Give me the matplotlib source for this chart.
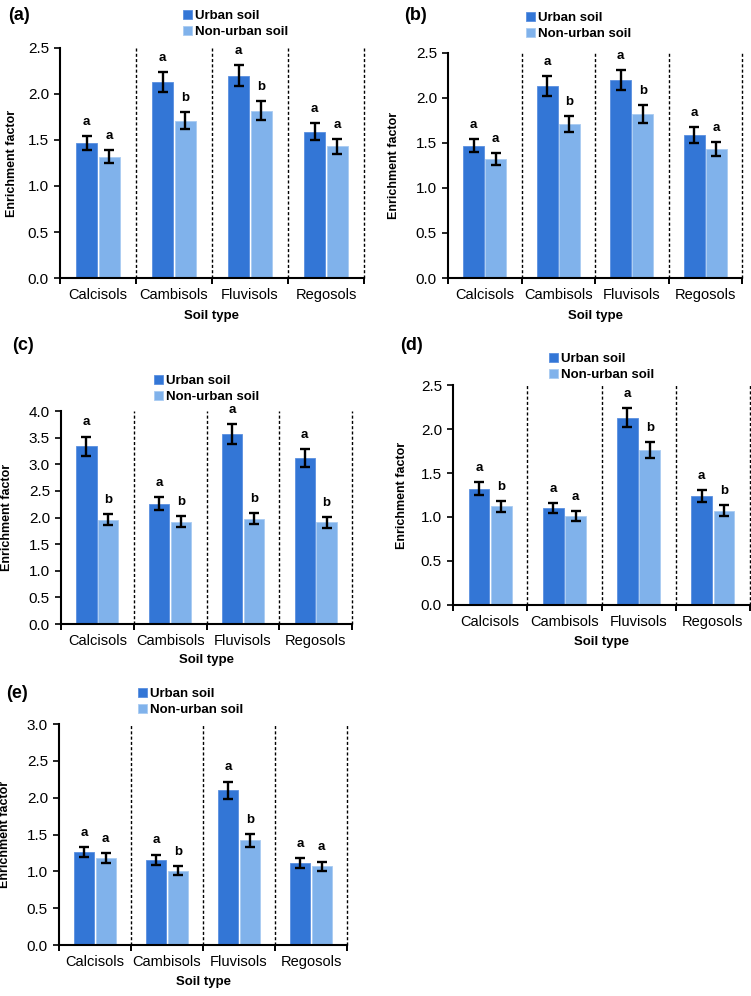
import matplotlib
matplotlib.use("Agg")
import matplotlib.pyplot as plt
import numpy as np

plt.rcParams["font.family"] = ["Liberation Sans", "DejaVu Sans"]

SOILS = ["Calcisols", "Cambisols", "Fluvisols", "Regosols"]
SERIES = ["Urban soil", "Non-urban soil"]
COLORS = ["#3376d6", "#80b2eb"]
EDGES = ["#5a90e0", "#a9cbf2"]

# panel (a) and (b) show the same values
a_urban = [1.47, 2.13, 2.20, 1.59]
a_urban_err = [0.075, 0.11, 0.11, 0.09]
a_non = [1.32, 1.71, 1.82, 1.43]
a_non_err = [0.07, 0.09, 0.10, 0.08]
a_letters = [("a", "a"), ("a", "b"), ("a", "b"), ("a", "a")]

c_urban = [3.34, 2.26, 3.57, 3.11]
c_urban_err = [0.18, 0.125, 0.19, 0.17]
c_non = [1.96, 1.92, 1.98, 1.91]
c_non_err = [0.11, 0.10, 0.11, 0.10]
c_letters = [("a", "b"), ("a", "b"), ("a", "b"), ("a", "b")]

d_urban = [1.32, 1.10, 2.13, 1.24]
d_urban_err = [0.075, 0.06, 0.11, 0.07]
d_non = [1.12, 1.01, 1.76, 1.07]
d_non_err = [0.065, 0.057, 0.095, 0.063]
d_letters = [("a", "b"), ("a", "a"), ("a", "b"), ("a", "b")]

e_urban = [1.26, 1.16, 2.10, 1.11]
e_urban_err = [0.072, 0.068, 0.118, 0.068]
e_non = [1.18, 1.01, 1.42, 1.07]
e_non_err = [0.068, 0.063, 0.086, 0.063]
e_letters = [("a", "a"), ("a", "b"), ("a", "b"), ("a", "a")]

YTOP = {"a": 2.5, "b": 2.5, "c": 4.0, "d": 2.5, "e": 3.0}

W, H = 751, 996
fig = plt.figure(figsize=(W / 100, H / 100), dpi=100)


def px(x0, y0, x1, y1):
    # pixel box -> figure fraction rect
    return [x0 / W, 1 - y1 / H, (x1 - x0) / W, (y1 - y0) / H]


# name, axes box (px), panel label pos, legend pos, ylabel x offset (axes frac)
layout = [
    ("a", px(60, 48, 364, 278), (8, 15), (183, 24), -0.138),
    ("b", px(448, 53, 742, 278), (404, 15), (526, 26), -0.162),
    ("c", px(61, 411, 352, 624), (12, 345), (154, 389), -0.165),
    ("d", px(453, 385, 750, 605), (400, 345), (549, 367), -0.150),
    ("e", px(59, 724, 347, 945), (6, 693), (138, 702), -0.165),
]
panels = {
    "a": (a_urban, a_urban_err, a_non, a_non_err, a_letters),
    "b": (a_urban, a_urban_err, a_non, a_non_err, a_letters),
    "c": (c_urban, c_urban_err, c_non, c_non_err, c_letters),
    "d": (d_urban, d_urban_err, d_non, d_non_err, d_letters),
    "e": (e_urban, e_urban_err, e_non, e_non_err, e_letters),
}

x = np.arange(len(SOILS))
bw = 0.28
off = 0.15

for name, rect, lab_pos, leg_pos, ylab_x in layout:
    urban, urban_err, non, non_err, letters = panels[name]
    ax = fig.add_axes(rect)
    handles = []
    for k, (vals, errs) in enumerate([(urban, urban_err), (non, non_err)]):
        xs = x + (-off if k == 0 else off)
        b = ax.bar(xs, vals, bw, color=COLORS[k], edgecolor=EDGES[k],
                   linewidth=0.6, label=SERIES[k], zorder=2)
        handles.append(b)
        ax.errorbar(xs, vals, yerr=errs, fmt="none", ecolor="black",
                    elinewidth=1.7, capsize=3.3, capthick=1.7, zorder=3)
        for xi, v, e, lt in zip(xs, vals, errs, letters):
            ax.annotate(lt[k], (xi, v + e), xytext=(0, 8),
                        textcoords="offset points", ha="center",
                        va="baseline", fontsize=9.5, fontweight="bold")

    ytop = YTOP[name]
    ax.set_xlim(-0.5, len(SOILS) - 0.5)
    ax.set_ylim(0, ytop)
    ax.set_yticks(np.arange(0, ytop + 0.01, 0.5))
    ax.yaxis.set_major_formatter(plt.FormatStrFormatter("%.1f"))
    for b in np.arange(0.5, len(SOILS), 1.0):
        ax.axvline(b, color="black", linestyle=(0, (2.2, 1.6)),
                   linewidth=1.0, zorder=1, clip_on=False)

    ax.set_xticks(x)
    ax.set_xticklabels(SOILS)
    ax.set_xticks(np.arange(-0.5, len(SOILS), 1.0), minor=True)
    ax.tick_params(axis="x", which="major", length=0, pad=7, labelsize=10.5)
    ax.tick_params(axis="x", which="minor", length=4, width=1.4,
                   direction="out")
    ax.tick_params(axis="y", length=4, width=1.2, pad=4, labelsize=11)

    for s in ("top", "right"):
        ax.spines[s].set_visible(False)
    for s in ("left", "bottom"):
        ax.spines[s].set_linewidth(1.5)

    ax.set_ylabel("Enrichment factor", fontsize=9, fontweight="bold")
    ax.yaxis.set_label_coords(ylab_x, 0.5)
    ax.set_xlabel("Soil type", fontsize=9.5, fontweight="bold")
    ax.xaxis.set_label_coords(0.5, -0.14)

    fig.text(lab_pos[0] / W, 1 - lab_pos[1] / H, f"({name})", fontsize=13,
             fontweight="bold", ha="left", va="center")
    fig.legend(handles=handles, loc="center left",
               bbox_to_anchor=(leg_pos[0] / W, 1 - leg_pos[1] / H),
               frameon=False, prop={"size": 9.5, "weight": "bold"},
               handlelength=0.65, handleheight=0.65, handletextpad=0.25,
               labelspacing=0.3, borderpad=0, borderaxespad=0)

fig.savefig("out.png", dpi=100)
